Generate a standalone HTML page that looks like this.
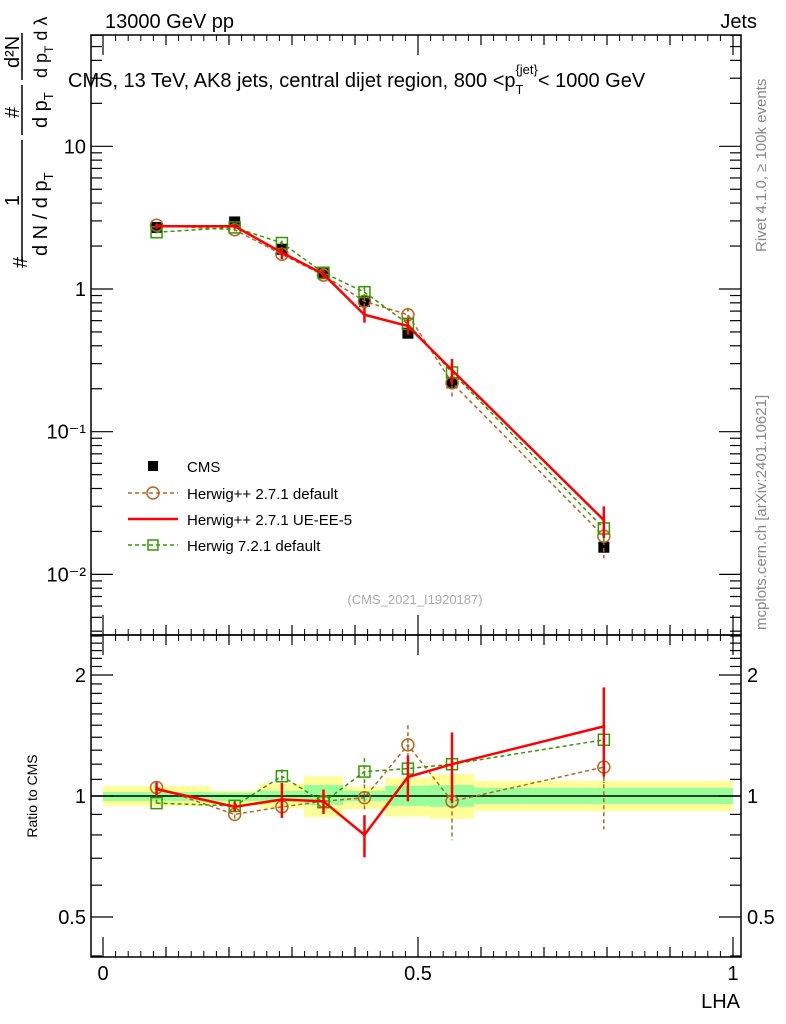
<!DOCTYPE html>
<html><head><meta charset="utf-8"><style>
body{margin:0;background:#fff;}
svg{display:block;font-family:"Liberation Sans",sans-serif;}
</style></head><body>
<svg id="c" width="786" height="1024" viewBox="0 0 786 1024">
<text x="105" y="28" font-size="20">13000 GeV pp</text>
<text x="757" y="28" font-size="20" text-anchor="end">Jets</text>
<text x="68" y="87" font-size="20">CMS, 13 TeV, AK8 jets, central dijet region, 800 &lt;p<tspan font-size="13" dy="7">T</tspan><tspan font-size="13" dx="-8" dy="-20">{jet}</tspan><tspan dy="13">&lt; 1000 GeV</tspan></text>
<text transform="translate(767,40) rotate(90)" font-size="15" fill="#888" text-anchor="end" style="display:none">x</text>
<text transform="translate(766,252) rotate(-90)" font-size="15" fill="#888">Rivet 4.1.0, ≥ 100k events</text>
<text transform="translate(766,630) rotate(-90)" font-size="15" fill="#888">mcplots.cern.ch [arXiv:2401.10621]</text>
<g font-size="20">
<text transform="translate(27,268) rotate(-90)">#</text>
<line x1="22" y1="262" x2="22" y2="140" stroke="#000" stroke-width="1.5"/>
<text transform="translate(19,206) rotate(-90)" font-size="20">1</text>
<text transform="translate(47,256) rotate(-90)">d N / d p<tspan font-size="13" dy="6">T</tspan></text>
<line x1="22" y1="135" x2="22" y2="85" stroke="#000" stroke-width="1.5"/>
<text transform="translate(19,118) rotate(-90)">#</text>
<text transform="translate(47,128) rotate(-90)">d p<tspan font-size="13" dy="6">T</tspan></text>
<line x1="22" y1="80" x2="22" y2="33" stroke="#000" stroke-width="1.5"/>
<text transform="translate(19,68) rotate(-90)">d²N</text>
<text transform="translate(47,78) rotate(-90)" font-size="18">d p<tspan font-size="12" dy="6">T</tspan><tspan dy="-6"> d λ</tspan></text>
</g>
<text transform="translate(37,796) rotate(-90)" font-size="14" text-anchor="middle">Ratio to CMS</text>
<text x="740" y="1008" font-size="20" text-anchor="end">LHA</text>
<text x="415" y="604" font-size="13" fill="#aaa" text-anchor="middle">(CMS_2021_I1920187)</text>
<g id="bands"></g><g id="axes"></g><g id="marks"></g>
<g id="legend" font-size="15">
<rect x="148" y="461" width="10" height="10" fill="#000"/>
<text x="187" y="472">CMS</text>
<line x1="128" y1="493" x2="178" y2="493" stroke="#b5651d" stroke-width="1.5" stroke-dasharray="4,3"/>
<circle cx="153" cy="493" r="6" fill="none" stroke="#b5651d" stroke-width="1.5"/>
<text x="187" y="499">Herwig++ 2.7.1 default</text>
<line x1="128" y1="519" x2="178" y2="519" stroke="#f00" stroke-width="2.5"/>
<text x="187" y="525">Herwig++ 2.7.1 UE-EE-5</text>
<line x1="128" y1="545" x2="178" y2="545" stroke="#339900" stroke-width="1.5" stroke-dasharray="4,3"/>
<rect x="148" y="540" width="10" height="10" fill="none" stroke="#339900" stroke-width="1.5"/>
<text x="187" y="551">Herwig 7.2.1 default</text>
</g>
</svg>
<script>
const binEdges=[0,0.17,0.248,0.319,0.381,0.448,0.519,0.589,1.0];
const xCenters=[0.085,0.209,0.284,0.35,0.415,0.484,0.554,0.795];
const cmsVals=[2.7,2.95,1.9,1.28,0.82,0.49,0.22,0.0155];
const hppDefault=[2.8,2.6,1.75,1.25,0.82,0.66,0.22,0.0185];
const hppUEEE5=[2.75,2.75,1.8,1.27,0.66,0.55,0.27,0.024];
const hw7Default=[2.5,2.7,2.1,1.3,0.95,0.57,0.26,0.021];
const hppDefaultRatio=[1.05,0.9,0.94,0.97,0.99,1.34,0.97,1.18];
const hppUEEE5Ratio=[1.04,0.94,0.98,0.97,0.8,1.115,1.2,1.49];
const hw7DefaultRatio=[0.96,0.945,1.12,0.965,1.15,1.17,1.2,1.38];
const hppDefaultErr=[0.03,0.04,0.06,0.06,0.08,0.12,0.2,0.3];
const hppUEEE5Err=[0.04,0.03,0.1,0.07,0.12,0.13,0.2,0.25];
const hw7DefaultErr=[0.02,0.03,0.04,0.04,0.08,0.08,0.18,0.22];
const yellowHi=[1.059,1.03,1.075,1.12,1.055,1.11,1.134,1.09];
const yellowLo=[0.944,0.95,0.932,0.886,0.927,0.888,0.877,0.917];
const greenHi=[1.023,1.02,1.03,1.065,1.03,1.06,1.065,1.047];
const greenLo=[0.972,0.97,0.97,0.95,0.97,0.945,0.94,0.955];
const mainTicks=[10,1,0.1,0.01];
const mainTickLabels=["10","1","10⁻¹","10⁻²"];
const ratioTicks=[2,1,0.5];
const ratioTickLabels=["2","1","0.5"];
const xTicks=[0,0.5,1];
const xTickLabels=["0","0.5","1"];

const NS="http://www.w3.org/2000/svg";
const L=91,R=741,MT=35,MB=635,RB=957;
const X=v=>103+630*v;
const Y=v=>289-142.7*Math.log10(v);
const YR=v=>796-402*Math.log10(v);
function mk(parent,tag,attrs){const e=document.createElementNS(NS,tag);for(const k in attrs)e.setAttribute(k,attrs[k]);document.getElementById(parent).appendChild(e);return e;}

// bands
for(let i=0;i<binEdges.length-1;i++){
  let e=mk('bands','rect',{x:X(binEdges[i]),y:YR(yellowHi[i]),width:X(binEdges[i+1])-X(binEdges[i]),height:YR(yellowLo[i])-YR(yellowHi[i]),fill:'#ffff99'});
  
  
  e=mk('bands','rect',{x:X(binEdges[i]),y:YR(greenHi[i]),width:X(binEdges[i+1])-X(binEdges[i]),height:YR(greenLo[i])-YR(greenHi[i]),fill:'#99ff99'});
  
  
}
let ref=mk('bands','line',{x1:L,x2:R,y1:YR(1),y2:YR(1),stroke:'#000','stroke-width':1.5});



// frames
let f1=mk('axes','rect',{x:L,y:MT,width:R-L,height:MB-MT,fill:'none',stroke:'#000','stroke-width':1.5});


let f2=mk('axes','rect',{x:L,y:MB,width:R-L,height:RB-MB,fill:'none',stroke:'#000','stroke-width':1.5});


// main y ticks
for(let d=-3;d<=1;d++){for(let m=1;m<10;m++){const v=m*Math.pow(10,d);const y=Y(v);if(y<MT||y>MB)continue;const len=m==1?22:11;
 mk('axes','line',{x1:L,x2:L+len,y1:y,y2:y,stroke:'#000','stroke-width':1.2});
 mk('axes','line',{x1:R,x2:R-len,y1:y,y2:y,stroke:'#000','stroke-width':1.2});}}
mainTicks.forEach((v,i)=>{const t=mk('axes','text',{x:86,y:Y(v)+7,'font-size':20,'text-anchor':'end'});t.textContent=mainTickLabels[i];
 
 });
// ratio ticks
[0.4,0.5,0.6,0.7,0.8,0.9,1,1.1,1.2,1.3,1.4,1.5,1.6,1.7,1.8,1.9,2,2.1,2.2,2.3,2.4,2.5].forEach(v=>{const y=YR(v);if(y<MB||y>RB)return;const maj=ratioTicks.includes(v);const len=maj?22:11;
 mk('axes','line',{x1:L,x2:L+len,y1:y,y2:y,stroke:'#000','stroke-width':1.2});
 mk('axes','line',{x1:R,x2:R-len,y1:y,y2:y,stroke:'#000','stroke-width':1.2});});
ratioTicks.forEach((v,i)=>{let t=mk('axes','text',{x:86,y:YR(v)+7,'font-size':20,'text-anchor':'end'});t.textContent=ratioTickLabels[i];
 
 
 t=mk('axes','text',{x:747,y:YR(v)+7,'font-size':20});t.textContent=ratioTickLabels[i];
 
 });
// x ticks
for(let k=0;k<=10;k++){const v=k/10,x=X(v);const maj=(k%5==0);const len=maj?20:10;
 for(const [a,b] of [[MT,MT+len],[MB,MB-len],[MB,MB+len],[RB,RB-len]]) mk('axes','line',{x1:x,x2:x,y1:a,y2:b,stroke:'#000','stroke-width':1.2});
 if(k<10){for(let s=1;s<5;s++){const xm=X(v+s*0.02);for(const [a,b] of [[MT,MT+6],[MB,MB-6],[MB,MB+6],[RB,RB-6]]) mk('axes','line',{x1:xm,x2:xm,y1:a,y2:b,stroke:'#000','stroke-width':1});}}}
xTicks.forEach((v,i)=>{const t=mk('axes','text',{x:X(v),y:980,'font-size':20,'text-anchor':'middle'});t.textContent=xTickLabels[i];
 
 });

function series(vals,errs,yf,color,dash,width,marker,name){
 const pts=xCenters.map((x,i)=>X(x)+','+yf(vals[i])).join(' ');
 const pl=mk('marks','polyline',{points:pts,fill:'none',stroke:color,'stroke-width':width,'stroke-dasharray':dash});
 
 
 vals.forEach((v,i)=>{const x=X(xCenters[i]);
  const eb=mk('marks','line',{x1:x,x2:x,y1:yf(v*(1+errs[i])),y2:yf(v*(1-errs[i])),stroke:color,'stroke-width':width>2?2.5:1.5,'stroke-dasharray':dash});
  
  
  let m;
  if(marker=='circle')m=mk('marks','circle',{cx:x,cy:yf(v),r:6,fill:'none',stroke:color,'stroke-width':1.5});
  else if(marker=='square')m=mk('marks','rect',{x:x-5.5,y:yf(v)-5.5,width:11,height:11,fill:'none',stroke:color,'stroke-width':1.5});
  else m=mk('marks','circle',{cx:x,cy:yf(v),r:1.5,fill:color});
  
  });
}
// CMS data
cmsVals.forEach((v,i)=>{const m=mk('marks','rect',{x:X(xCenters[i])-5.5,y:Y(v)-5.5,width:11,height:11,fill:'#000'});
 
 });
series(hppDefault,hppDefaultErr,Y,'#b5651d','4,3',1.5,'circle','herwigpp-default');
series(hw7Default,hw7DefaultErr,Y,'#339900','4,3',1.5,'square','herwig7-default');
series(hppUEEE5,hppUEEE5Err,Y,'#ff0000','',2.5,'none','herwigpp-ueee5');
series(hppDefaultRatio,hppDefaultErr,YR,'#b5651d','4,3',1.5,'circle','ratio-herwigpp-default');
series(hw7DefaultRatio,hw7DefaultErr,YR,'#339900','4,3',1.5,'square','ratio-herwig7-default');
series(hppUEEE5Ratio,hppUEEE5Err,YR,'#ff0000','',2.5,'none','ratio-herwigpp-ueee5');
</script>
</body></html>
